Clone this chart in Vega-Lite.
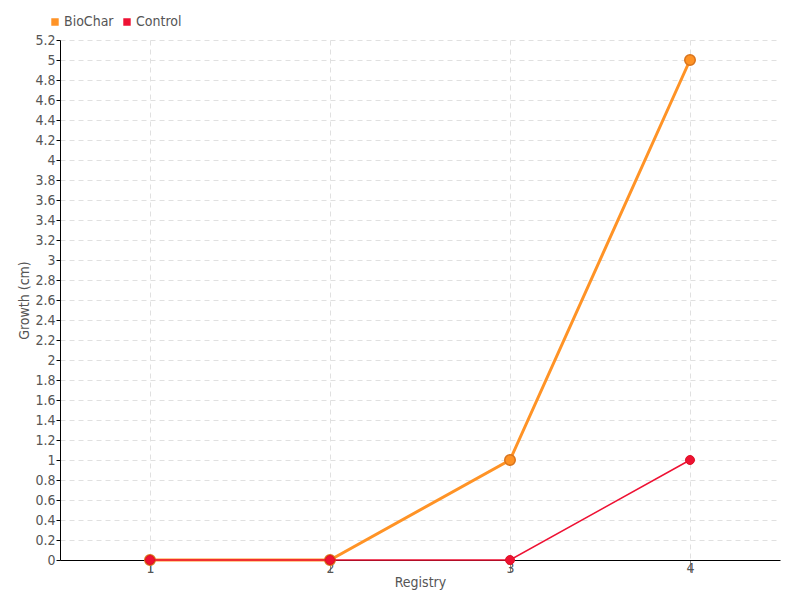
{
  "$schema": "https://vega.github.io/schema/vega-lite/v6.json",
  "width": 720,
  "height": 520,
  "autosize": {"type": "none"},
  "padding": {"left": 60, "top": 40, "right": 20, "bottom": 40},
  "background": "white",
  "config": {
    "font": "DejaVu Sans Condensed, Liberation Sans Narrow, sans-serif",
    "view": {"stroke": null}
  },
  "data": {
    "values": [
      {"registry": "1", "series": "BioChar", "growth": 0},
      {"registry": "2", "series": "BioChar", "growth": 0},
      {"registry": "3", "series": "BioChar", "growth": 1},
      {"registry": "4", "series": "BioChar", "growth": 5},
      {"registry": "1", "series": "Control", "growth": 0},
      {"registry": "2", "series": "Control", "growth": 0},
      {"registry": "3", "series": "Control", "growth": 0},
      {"registry": "4", "series": "Control", "growth": 1}
    ]
  },
  "encoding": {
    "x": {
      "field": "registry",
      "type": "ordinal",
      "scale": {"type": "point", "padding": 0.5},
      "axis": {
        "title": "Registry",
        "titleFontSize": 14,
        "titleFontWeight": "normal",
        "titleColor": "#555",
        "titlePadding": 0,
        "labelAngle": 0,
        "labelFontSize": 14,
        "labelColor": "#555",
        "labelPadding": -11,
        "tickSize": 12,
        "tickColor": "#888",
        "domainColor": "#000",
        "grid": true,
        "gridColor": "#e0e0e0",
        "gridDash": [5, 4]
      }
    },
    "y": {
      "field": "growth",
      "type": "quantitative",
      "scale": {"domain": [0, 5.2], "nice": false},
      "axis": {
        "title": "Growth (cm)",
        "titleFontSize": 14,
        "titleFontWeight": "normal",
        "titleColor": "#555",
        "titlePadding": 3,
        "values": [0,0.2,0.4,0.6,0.8,1,1.2,1.4,1.6,1.8,2,2.2,2.4,2.6,2.8,3,3.2,3.4,3.6,3.8,4,4.2,4.4,4.6,4.8,5,5.2],
        "format": ".2~f",
        "labelFontSize": 14,
        "labelColor": "#555",
        "labelPadding": 1,
        "tickSize": 4,
        "tickColor": "#000",
        "domainColor": "#000",
        "grid": true,
        "gridColor": "#e0e0e0",
        "gridDash": [5, 4]
      }
    },
    "color": {
      "field": "series",
      "type": "nominal",
      "scale": {"domain": ["BioChar", "Control"], "range": ["#ff9326", "#ee1133"]},
      "legend": {
        "title": null,
        "orient": "none",
        "legendX": -12,
        "legendY": -25,
        "direction": "horizontal",
        "symbolType": "square",
        "symbolSize": 35,
        "symbolOffset": 0,
        "labelFontSize": 14,
        "labelColor": "#555",
        "labelOffset": 2,
        "columnPadding": 6
      }
    }
  },
  "layer": [
    {
      "transform": [{"filter": "datum.series === 'BioChar'"}],
      "mark": {"type": "line", "strokeWidth": 3}
    },
    {
      "transform": [{"filter": "datum.series === 'BioChar'"}],
      "mark": {"type": "point", "filled": true, "size": 110, "opacity": 1, "stroke": "#d9731a", "strokeWidth": 1.5}
    },
    {
      "transform": [{"filter": "datum.series === 'Control'"}],
      "mark": {"type": "line", "strokeWidth": 1.5, "opacity": 1}
    },
    {
      "transform": [{"filter": "datum.series === 'Control'"}],
      "mark": {"type": "point", "filled": true, "size": 80, "opacity": 1, "stroke": "#dd1122", "strokeWidth": 1}
    }
  ]
}
